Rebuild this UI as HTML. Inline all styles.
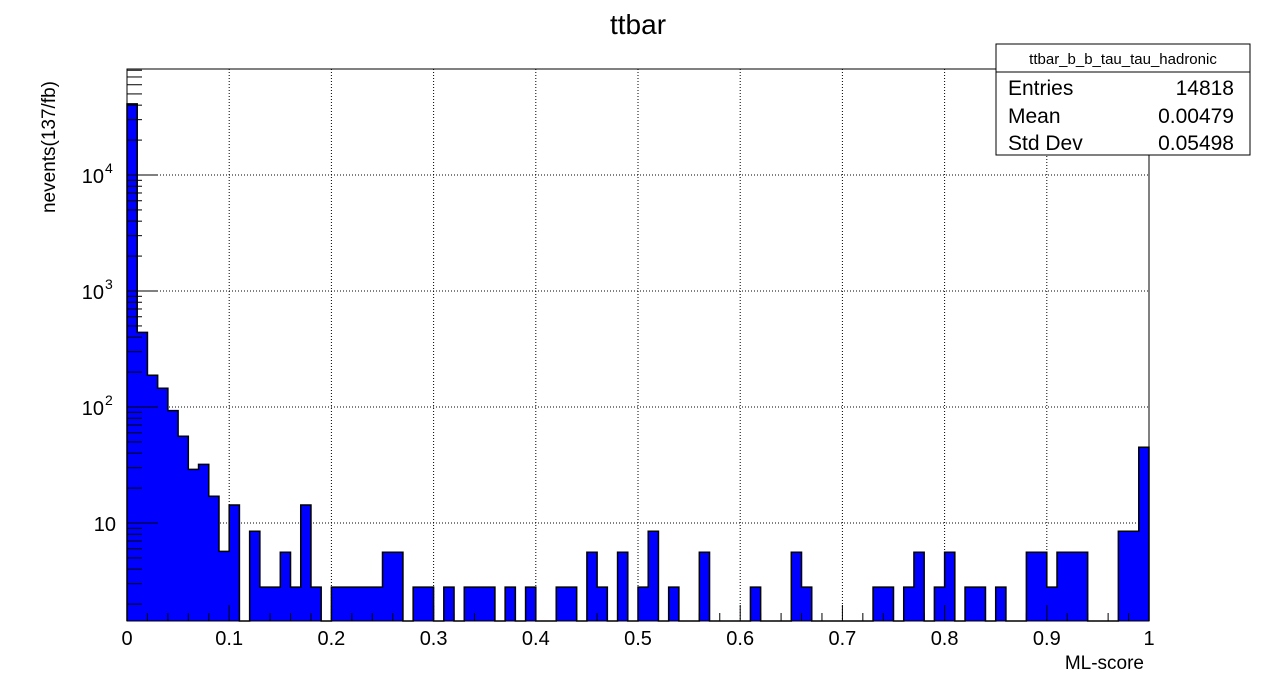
<!DOCTYPE html>
<html><head><meta charset="utf-8"><style>
html,body{margin:0;padding:0;background:#fff;}
svg{display:block;font-family:"Liberation Sans",Arial,sans-serif;}
</style></head><body>
<svg id="chart" width="1276" height="692" viewBox="0 0 1276 692" xmlns="http://www.w3.org/2000/svg">
<rect width="1276" height="692" fill="#fff"/>
<text x="638" y="34" font-size="28" text-anchor="middle">ttbar</text>
<g id="grid"></g>
<g id="bars"></g>
<g id="axes"></g>
<rect x="127" y="69" width="1022" height="552" fill="none" stroke="#000" stroke-width="1"/>
<text transform="translate(55,147) rotate(-90)" font-size="19" text-anchor="middle">nevents(137/fb)</text>
<text x="1144" y="669" font-size="19" text-anchor="end">ML-score</text>
<g>
<rect x="996" y="44" width="254" height="111" fill="#fff" stroke="#000" stroke-width="1"/>
<line x1="996" y1="72" x2="1250" y2="72" stroke="#000"/>
<text x="1123" y="64" font-size="15" text-anchor="middle">ttbar_b_b_tau_tau_hadronic</text>
<text x="1008" y="95" font-size="21">Entries</text>
<text x="1234" y="95" font-size="21" text-anchor="end">14818</text>
<text x="1008" y="123" font-size="21">Mean</text>
<text x="1234" y="123" font-size="21" text-anchor="end">0.00479</text>
<text x="1008" y="150" font-size="21">Std Dev</text>
<text x="1234" y="150" font-size="21" text-anchor="end">0.05498</text>
</g>
</svg>
<script>
// 100 bins from 0 to 1
const binValues = [41000,440,188,145,93,56,29,32,17,5.7,
14.3,0,8.5,2.8,2.8,5.6,2.8,14.3,2.8,0,
2.8,2.8,2.8,2.8,2.8,5.6,5.6,0,2.8,2.8,
0,2.8,0,2.8,2.8,2.8,0,2.8,0,2.8,
0,0,2.8,2.8,0,5.6,2.8,0,5.6,0,
2.8,8.5,0,2.8,0,0,5.6,0,0,0,
0,2.8,0,0,0,5.6,2.8,0,0,0,
0,0,0,2.8,2.8,0,2.8,5.6,0,2.8,
5.6,0,2.8,2.8,0,2.8,0,0,5.6,5.6,
2.8,5.6,5.6,5.6,0,0,0,8.5,8.5,45];
const xTickLabels = ["0","0.1","0.2","0.3","0.4","0.5","0.6","0.7","0.8","0.9","1"];
const yDecades = [1,2,3,4];

const NS="http://www.w3.org/2000/svg";
const X0=127,X1=1149,Y0=621,Y1=69;
const yMinLog=Math.log10(1.43), yMaxLog=Math.log10(82000);
function xs(v){return X0+(X1-X0)*v;}
function ys(v){return Y0-(Math.log10(v)-yMinLog)/(yMaxLog-yMinLog)*(Y0-Y1);}
function mk(tag,attrs,parent){const e=document.createElementNS(NS,tag);for(const k in attrs)e.setAttribute(k,attrs[k]);parent.appendChild(e);return e;}
const grid=document.getElementById('grid'),bars=document.getElementById('bars'),axes=document.getElementById('axes');

for(let i=1;i<xTickLabels.length-1;i++){
  const x=xs(i/10);
  const l=mk('line',{x1:x,y1:Y1,x2:x,y2:Y0,stroke:'#000','stroke-dasharray':'1,2','stroke-width':1},grid);
  
  
}
yDecades.forEach(d=>{
  const y=ys(Math.pow(10,d));
  const l=mk('line',{x1:X0,y1:y,x2:X1,y2:y,stroke:'#000','stroke-dasharray':'1,2','stroke-width':1},grid);
  
  
});

const n=binValues.length, w=1/n;
for(let i=0;i<n;i++){
  const v=binValues[i];
  if(v<=0) continue;
  const xa=xs(i*w),xb=xs((i+1)*w),yt=Math.max(ys(v),Y1);
  const r=mk('rect',{x:xa-0.3,y:yt,width:xb-xa+0.6,height:Y0-yt,fill:'#0000ff','shape-rendering':'crispEdges'},bars);
  
  
}
let path='M'+X0+','+Y0;
for(let i=0;i<n;i++){
  const v=binValues[i];
  const yt=v>0?Math.max(ys(v),Y1):Y0;
  path+=' L'+xs(i*w)+','+yt+' L'+xs((i+1)*w)+','+yt;
}
path+=' L'+X1+','+Y0;
const outline=mk('path',{d:path,fill:'none',stroke:'#000','stroke-width':1.5},bars);



for(let i=0;i<=50;i++){
  const x=xs(i*0.02);const len=(i%5===0)?16:8;
  const t=mk('line',{x1:x,y1:Y0,x2:x,y2:Y0-len,stroke:'#000'},axes);
  
  
}
xTickLabels.forEach((s,i)=>{
  const t=mk('text',{x:xs(i/10),y:645,'font-size':20,'text-anchor':'middle'},axes);
  t.textContent=s;
  
  
});
for(let dec=0;dec<=4;dec++){
  for(let m=1;m<=9;m++){
    const v=m*Math.pow(10,dec);
    const y=ys(v);
    if(y<Y1||y>Y0) continue;
    const len=(m===1)?31:15;
    const t=mk('line',{x1:X0,y1:y,x2:X0+len,y2:y,stroke:'#000'},axes);
    
    
  }
}
yDecades.forEach(dd=>{
  const y=ys(Math.pow(10,dd));
  const t=mk('text',{x:dd===1?116:104,y:y+8,'font-size':20,'text-anchor':'end'},axes);
  t.textContent='10';
  
  
  if(dd>1){
    const s=mk('text',{x:105,y:y-2,'font-size':14,'text-anchor':'start'},axes);
    s.textContent=String(dd);
    
    
  }
});
</script>
</body></html>
